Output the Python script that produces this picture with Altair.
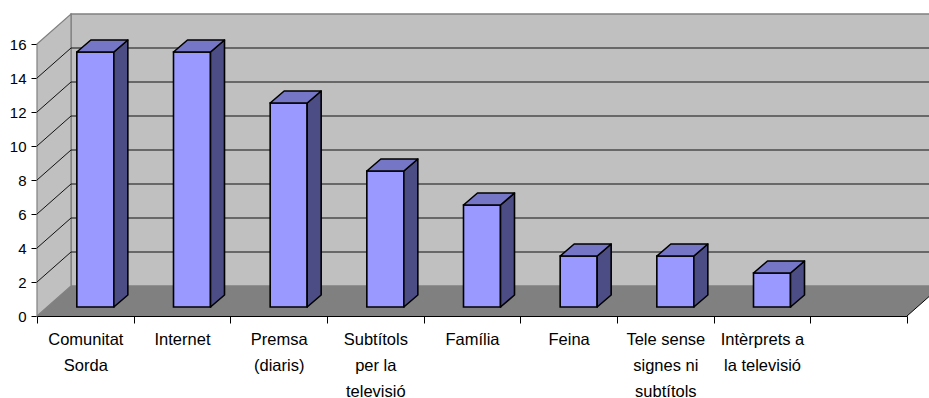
import json
import altair as alt
import pandas as pd

# Survey answers: where information comes from
categories = [
    "Comunitat\nSorda",
    "Internet",
    "Premsa\n(diaris)",
    "Subtítols\nper la\ntelevisió",
    "Família",
    "Feina",
    "Tele sense\nsignes ni\nsubtítols",
    "Intèrprets a\nla televisió",
]
values = [15, 15, 12, 8, 6, 3, 3, 2]
y_ticks = list(range(0, 17, 2))
n_slots = 9          # one empty slot after the last category
y_max = 16

# plot area size (px) and unit conversions for the pseudo-3D offsets
W, H = 870, 272
UX = W / n_slots
UY = H / y_max


def ux(px):
    return px / UX


def uy(px):
    return px / UY


WALL_DX, WALL_DY = ux(34), uy(30)     # depth of the floor / back wall
POS_DX, POS_DY = ux(10), uy(9)        # bars sit this far into the floor
DEP_DX, DEP_DY = ux(14), uy(12)       # depth of each bar
HALF_W = ux(18.5)                     # half width of a bar front

FONT = "Liberation Sans"
xs = alt.Scale(domain=[0, n_slots], nice=False, zero=False)
ys = alt.Scale(domain=[0, y_max], nice=False, zero=False)

label_list = categories + [""] * (n_slots + 1 - len(categories))
label_expr = "split(" + json.dumps(label_list, ensure_ascii=False) + "[datum.value], '\\n')"

X_AX = alt.Axis(
    values=list(range(n_slots + 1)), labelExpr=label_expr, title=None, grid=False,
    domainColor="black", domainWidth=1, tickColor="black", tickSize=7, tickWidth=1,
    labelOffset=UX / 2, labelAlign="center", labelBaseline="top", labelPadding=8,
    labelFont=FONT, labelFontSize=16.5, labelLineHeight=26, labelColor="black",
    labelFlush=False, labelOverlap=False, labelBound=False,
)
Y_AX = alt.Axis(
    values=y_ticks, title=None, grid=False,
    domainColor="black", domainWidth=1, tickColor="black", tickSize=6, tickWidth=1,
    labelPadding=5, labelFont=FONT, labelFontSize=15, labelColor="black",
    labelFlush=False, labelOverlap=False,
)


def X(f):
    return alt.X(f, type="quantitative", scale=xs, axis=X_AX)


def Y(f):
    return alt.Y(f, type="quantitative", scale=ys, axis=Y_AX)


# ---- walls and floor ----
x_far = n_slots + WALL_DX + 1
back_wall = alt.Chart(pd.DataFrame([{
    "x": WALL_DX, "x2": x_far, "y": WALL_DY, "y2": y_max + WALL_DY
}])).mark_rect(fill="#C0C0C0", stroke="#808080", strokeWidth=1.5).encode(
    x=X("x"), x2="x2", y=Y("y"), y2="y2"
)

side_wall = alt.Chart(pd.DataFrame([
    {"x": 0, "top": y_max, "base": 0},
    {"x": WALL_DX, "top": y_max + WALL_DY, "base": WALL_DY},
])).mark_area(orient="vertical", fill="#C0C0C0", stroke="#808080", strokeWidth=1.2).encode(
    x=X("x"), y=Y("top"), y2="base"
)

floor = alt.Chart(pd.DataFrame([
    {"x": 0, "top": 0, "base": 0},
    {"x": WALL_DX, "top": WALL_DY, "base": 0},
    {"x": n_slots, "top": WALL_DY, "base": 0},
    {"x": n_slots + WALL_DX, "top": WALL_DY, "base": WALL_DY},
])).mark_area(orient="vertical", fill="#808080").encode(
    x=X("x"), y=Y("top"), y2="base"
)

floor_edge = alt.Chart(pd.DataFrame([
    {"x": n_slots, "x2": n_slots + WALL_DX, "y": 0, "y2": WALL_DY}
])).mark_rule(color="black", strokeWidth=1).encode(
    x=X("x"), x2="x2", y=Y("y"), y2="y2"
)

grid_rows = [t for t in y_ticks if 0 < t < y_max]
back_grid = alt.Chart(pd.DataFrame({
    "x": WALL_DX, "x2": x_far, "y": [t + WALL_DY for t in grid_rows]
})).mark_rule(color="#111111", strokeWidth=1.2).encode(
    x=X("x"), x2="x2", y=Y("y")
)
side_grid = alt.Chart(pd.DataFrame({
    "x": 0.0, "x2": WALL_DX, "y": grid_rows, "y2": [t + WALL_DY for t in grid_rows]
})).mark_rule(color="#111111", strokeWidth=1).encode(
    x=X("x"), x2="x2", y=Y("y"), y2="y2"
)

# ---- bars: front, side and top faces ----
fronts, sides, tops = [], [], []
for i, v in enumerate(values):
    x1 = i + 0.5 + POS_DX - HALF_W
    x2 = i + 0.5 + POS_DX + HALF_W
    b = POS_DY
    t = POS_DY + v
    fronts.append({"bar": i, "x": x1, "x2": x2, "y": b, "y2": t})
    sides += [
        {"bar": i, "x": x2, "top": t, "base": b},
        {"bar": i, "x": x2 + DEP_DX, "top": t + DEP_DY, "base": b + DEP_DY},
    ]
    tops += [
        {"bar": i, "x": x1, "top": t, "base": t},
        {"bar": i, "x": x1 + DEP_DX, "top": t + DEP_DY, "base": t},
        {"bar": i, "x": x2, "top": t + DEP_DY, "base": t},
        {"bar": i, "x": x2 + DEP_DX, "top": t + DEP_DY, "base": t + DEP_DY},
    ]

bar_front = alt.Chart(pd.DataFrame(fronts)).mark_rect(
    fill="#9999FF", stroke="black", strokeWidth=1.6
).encode(x=X("x"), x2="x2", y=Y("y"), y2="y2")

bar_side = alt.Chart(pd.DataFrame(sides)).mark_area(
    orient="vertical", fill="#4D4D85", stroke="black", strokeWidth=1.6, strokeJoin="round"
).encode(x=X("x"), y=Y("top"), y2="base", detail="bar:N")

bar_top = alt.Chart(pd.DataFrame(tops)).mark_area(
    orient="vertical", fill="#7676C6", stroke="black", strokeWidth=1.6, strokeJoin="round"
).encode(x=X("x"), y=Y("top"), y2="base", detail="bar:N")

chart = alt.layer(
    back_wall, side_wall, floor, floor_edge, back_grid, side_grid,
    bar_front, bar_side, bar_top,
).properties(
    width=W, height=H,
    autosize=alt.AutoSizeParams(type="none"),
    padding={"left": 37, "top": 44, "right": 22, "bottom": 82},
    background="white",
).configure_view(stroke=None)

chart.save("out.html", embed_options={"renderer": "svg", "actions": False})
